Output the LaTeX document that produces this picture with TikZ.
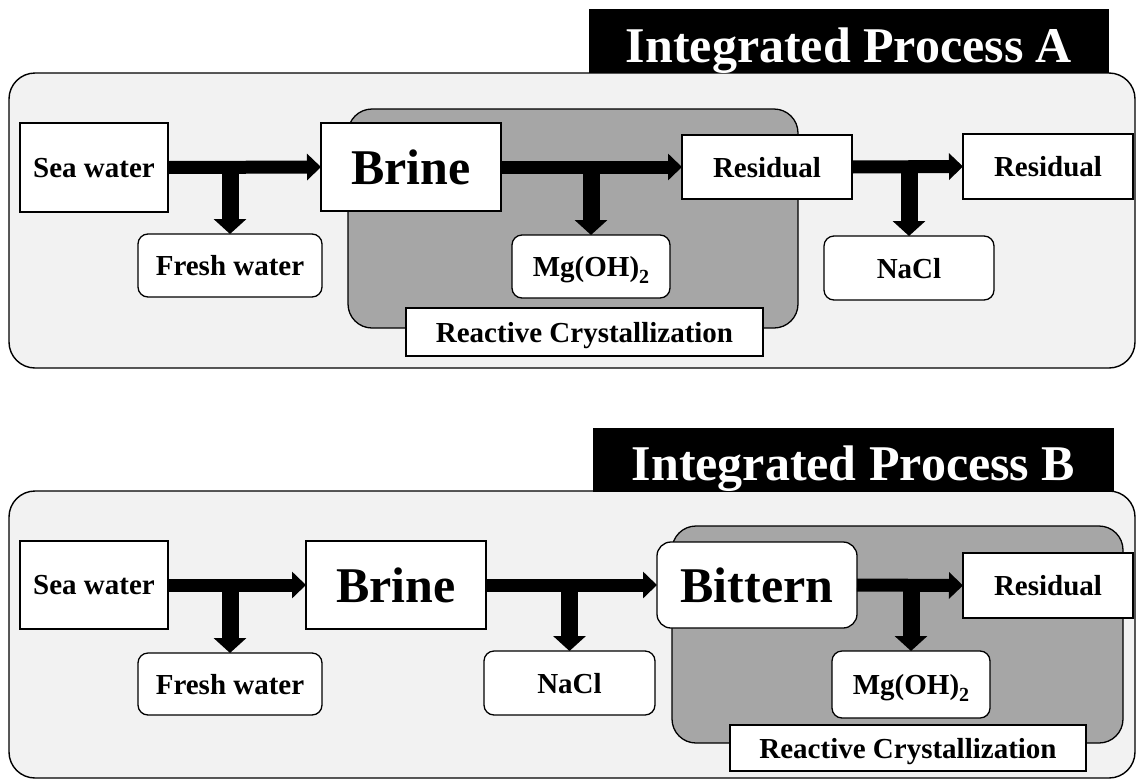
\documentclass[tikz,border=0pt]{standalone}
\usepackage{fontspec}
\setmainfont{Liberation Serif}
\usetikzlibrary{arrows.meta}
\definecolor{panelGrey}{HTML}{F2F2F2}
\definecolor{zoneGrey}{HTML}{A6A6A6}
\tikzset{
  panel/.style={draw=black, line width=1.4pt, fill=panelGrey, rounded corners=26pt},
  zone/.style ={draw=black, line width=1.3pt, fill=zoneGrey, rounded corners=24pt},
  titlebar/.style={
    fill=black, text=white, minimum height=64pt,
    font=\fontsize{50}{50}\selectfont\bfseries,
    text height=42pt, text depth=0pt
  },
  stream/.style={
    draw=black, line width=1.3pt, fill=white, text depth=0pt,
    font=\fontsize{29}{29}\selectfont\bfseries
  },
  product/.style  ={stream, rounded corners=10pt},
  bigstream/.style={stream, font=\fontsize{50}{50}\selectfont\bfseries},
  flowarrow/.style ={line width=13pt, -{Triangle[length=14pt,width=26pt]}},
  splitarrow/.style={line width=17pt, -{Triangle[length=15pt,width=32pt]}},
}
% lowered subscript two in the text font
\newcommand{\subtwo}{\raisebox{-7pt}{\fontsize{20}{20}\selectfont 2}}

\begin{document}
\begin{tikzpicture}[
  x=1pt,y=-1pt,
  every node/.style={inner sep=0pt,outer sep=0pt},
]
\useasboundingbox (0,0) rectangle (1137,782);

% --- Integrated Process A ---------------------------------------------------
\draw[panel] (9,73) rectangle (1135,368);
\node[titlebar, minimum width=520pt] (ttlA) at (849,41) {Integrated Process A};
\draw[zone] (348,109) rectangle (798,328);

\node[stream, minimum width=148pt, minimum height=89pt] (swA) at (94,167.5) {Sea water};
\node[product, minimum width=184pt, minimum height=63pt] (fwA) at (230,265.5) {Fresh water};
\node[bigstream, minimum width=180pt, minimum height=88pt] (brA) at (411,167) {Brine};
\node[product, minimum width=158pt, minimum height=63pt] (mgA) at (591,266.5) {Mg(OH)\subtwo};
\node[stream, minimum width=170pt, minimum height=64pt] (rsA) at (767,167) {Residual};
\node[product, minimum width=170pt, minimum height=64pt] (naA) at (909,268) {NaCl};
\node[stream, minimum width=170pt, minimum height=65pt] (rsAA) at (1048,166.5) {Residual};
\node[stream, minimum width=357pt, minimum height=48pt] (rcA) at (584.5,332) {Reactive Crystallization};

% main line and side streams
\draw[flowarrow] (swA.east) -- (brA.west);
\draw[flowarrow] (brA.east) -- (rsA.west);
\draw[flowarrow] (rsA.east) -- (rsAA.west);
\draw[splitarrow] (swA.east -| fwA.north) -- (fwA.north);
\draw[splitarrow] (brA.east -| mgA.north) -- (mgA.north);
\draw[splitarrow] (rsA.east -| naA.north) -- (naA.north);

% --- Integrated Process B ---------------------------------------------------
\draw[panel] (9,491) rectangle (1135,778);
\node[titlebar, minimum width=521pt] (ttlB) at (853.5,459.5) {Integrated Process B};
\draw[zone] (672,526) rectangle (1123,743);

\node[stream, minimum width=148pt, minimum height=88pt] (swB) at (94,585) {Sea water};
\node[product, minimum width=184pt, minimum height=62pt] (fwB) at (230,684) {Fresh water};
\node[bigstream, minimum width=180pt, minimum height=88pt] (brB) at (396,585) {Brine};
\node[product, minimum width=171pt, minimum height=64pt] (naB) at (569.5,683) {NaCl};
\node[bigstream, rounded corners=14pt, minimum width=200pt, minimum height=86pt] (btB) at (757,585) {Bittern};
\node[product, minimum width=158pt, minimum height=67pt] (mgB) at (911,684.5) {Mg(OH)\subtwo};
\node[stream, minimum width=170pt, minimum height=65pt] (rsB) at (1048,585.5) {Residual};
\node[stream, minimum width=356pt, minimum height=46pt] (rcB) at (908,748) {Reactive Crystallization};

% main line and side streams
\draw[flowarrow] (swB.east) -- (brB.west);
\draw[flowarrow] (brB.east) -- (btB.west);
\draw[flowarrow] (btB.east) -- (rsB.west);
\draw[splitarrow] (swB.east -| fwB.north) -- (fwB.north);
\draw[splitarrow] (brB.east -| naB.north) -- (naB.north);
\draw[splitarrow] (btB.east -| mgB.north) -- (mgB.north);

\end{tikzpicture}
\end{document}
